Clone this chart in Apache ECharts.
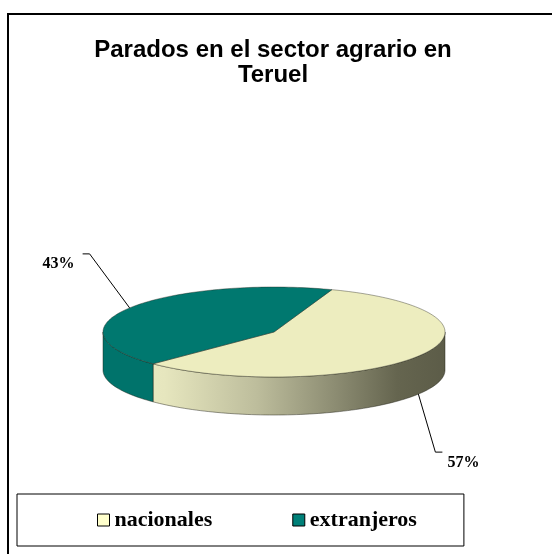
<!DOCTYPE html>
<html>
<head>
<meta charset="utf-8">
<script src="https://cdn.jsdelivr.net/npm/echarts@6/dist/echarts.min.js"></script>
<style>
  html, body { margin: 0; padding: 0; background: #fff; }
  #chart { width: 552px; height: 554px; }
</style>
</head>
<body>
<div id="chart"></div>
<script>
// ---- data ----
const titleText = 'Parados en el sector agrario en\nTeruel';
const categories = ['nacionales', 'extranjeros'];
const values = [57, 43];

// ---- styling / layout ----
const sliceColors = ['#EDEDBF', '#00786F'];
const legendColors = ['#FFFFCC', '#008078'];
const edgeColor = 'rgba(30,30,20,0.65)';
// projected 3D pie: ellipse centre, radii, wall depth, angle (clockwise from 12 o'clock) of first slice
const PIE = { cx: 274, cy: 332, rx: 171, ry: 45, depth: 38, startDeg: 19.8 };
const sideFills = [
  {
    type: 'linear', global: true,
    x: PIE.cx - PIE.rx, y: 0, x2: PIE.cx + PIE.rx, y2: 0,
    colorStops: [
      { offset: 0.0, color: '#EDEDC6' },
      { offset: 0.18, color: '#E6E6BE' },
      { offset: 0.45, color: '#BDBD9C' },
      { offset: 0.68, color: '#8C8C72' },
      { offset: 0.86, color: '#65654F' },
      { offset: 1.0, color: '#5C5C48' }
    ]
  },
  '#00736B'
];
// leader line layout per slice: elbow offset from anchor, horizontal tip, text offset from tip
const LABEL_LAYOUT = [
  { elbow: [17, 58], tip: 7, text: [5, 11], align: 'left' },
  { elbow: [-40, -54], tip: -7, text: [-8, 10], align: 'right' }
];

const total = values.reduce((a, b) => a + b, 0);

function rimPoint(deg, dy) {
  const r = deg * Math.PI / 180;
  return [PIE.cx + PIE.rx * Math.sin(r), PIE.cy - PIE.ry * Math.cos(r) + (dy || 0)];
}
function arcPoints(a0, a1, dy) {
  const n = Math.max(2, Math.ceil(Math.abs(a1 - a0) / 1.5));
  const pts = [];
  for (let k = 0; k <= n; k++) pts.push(rimPoint(a0 + (a1 - a0) * k / n, dy));
  return pts;
}

function renderSlice(i) {
  return function (params, api) {
    const v = api.value(0);
    let before = 0;
    for (let k = 0; k < i; k++) before += values[k];
    const a0 = PIE.startDeg + 360 * before / total;
    const a1 = a0 + 360 * v / total;
    const children = [];

    // outer wall, only where the rim lies on the near half of the ellipse
    [0, 360, -360].forEach(function (off) {
      const s = Math.max(a0, 90 + off), e = Math.min(a1, 270 + off);
      if (e > s) {
        const pts = arcPoints(s, e, 0).concat(arcPoints(e, s, PIE.depth));
        children.push({
          type: 'polygon', z2: 1,
          shape: { points: pts },
          style: { fill: sideFills[i], stroke: edgeColor, lineWidth: 0.7 }
        });
      }
    });

    // top face
    children.push({
      type: 'polygon', z2: 5,
      shape: { points: [[PIE.cx, PIE.cy]].concat(arcPoints(a0, a1, 0)) },
      style: { fill: api.visual('color'), stroke: edgeColor, lineWidth: 0.6 }
    });

    // percentage label with leader line
    const mid = (a0 + a1) / 2;
    const front = Math.cos(mid * Math.PI / 180) < 0;
    const anchor = rimPoint(mid, front ? PIE.depth : 0);
    const L = LABEL_LAYOUT[i];
    const elbow = [anchor[0] + L.elbow[0], anchor[1] + L.elbow[1]];
    const tip = [elbow[0] + L.tip, elbow[1]];
    children.push({
      type: 'polyline', z2: 10,
      shape: { points: [anchor, elbow, tip] },
      style: { stroke: '#000', lineWidth: 1, fill: null }
    });
    children.push({
      type: 'text', z2: 10,
      x: tip[0] + L.text[0], y: tip[1] + L.text[1],
      style: {
        text: Math.round(v / total * 100) + '%',
        fill: '#000',
        font: 'bold 16px "Liberation Serif", "Times New Roman", serif',
        align: L.align, textAlign: L.align,
        verticalAlign: 'middle', textVerticalAlign: 'middle'
      }
    });

    return { type: 'group', children: children };
  };
}

const chart = echarts.init(document.getElementById('chart'), null, { renderer: 'canvas' });

chart.setOption({
  animation: false,
  backgroundColor: '#fff',
  graphic: [
    {
      type: 'rect', z: 0,
      shape: { x: 8, y: 14, width: 600, height: 600 },
      style: { fill: null, stroke: '#000', lineWidth: 2 }
    },
    {
      type: 'text', z: 10,
      x: 273, y: 38,
      style: {
        text: titleText,
        fill: '#000',
        font: 'bold 24px "Liberation Sans", Arial, sans-serif',
        align: 'center', textAlign: 'center',
        lineHeight: 25
      }
    }
  ],
  legend: {
    data: categories.map(function (name, i) {
      return { name: name, itemStyle: { color: legendColors[i] } };
    }),
    left: 17, top: 494,
    padding: [15, 47, 15, 80],
    itemGap: 80,
    itemWidth: 12, itemHeight: 12,
    icon: 'rect',
    itemStyle: { borderColor: '#000', borderWidth: 1 },
    borderColor: '#000', borderWidth: 1,
    backgroundColor: '#fff',
    selectedMode: false,
    textStyle: {
      fontFamily: '"Liberation Serif", "Times New Roman", serif',
      fontWeight: 'bold', fontSize: 22, color: '#000'
    }
  },
  series: categories.map(function (name, i) {
    return {
      type: 'custom',
      name: name,
      coordinateSystem: 'none',
      itemStyle: { color: sliceColors[i] },
      data: [values[i]],
      renderItem: renderSlice(i)
    };
  })
});
</script>
</body>
</html>
